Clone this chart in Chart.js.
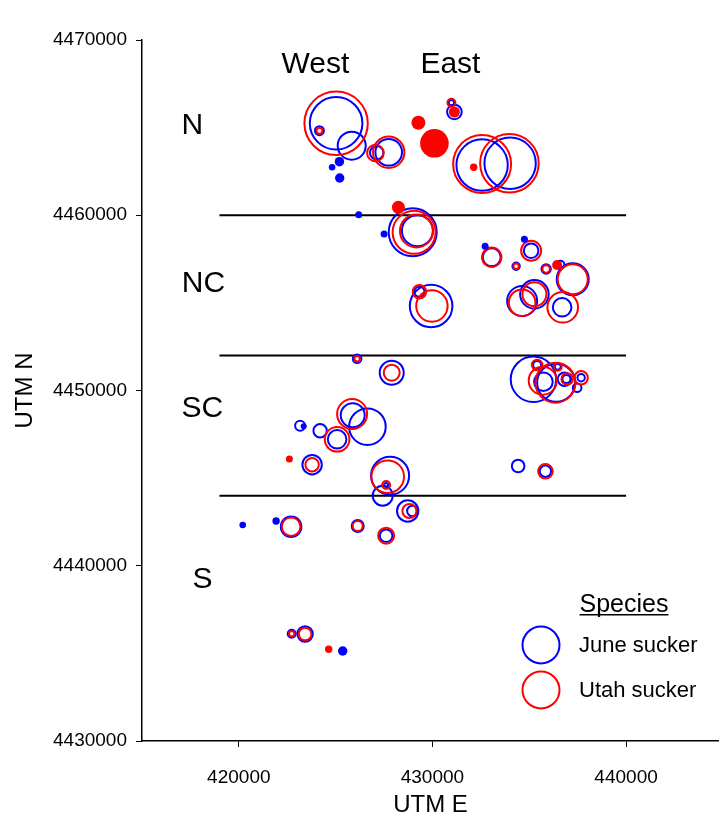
<!DOCTYPE html>
<html>
<head>
<meta charset="utf-8">
<script src="https://cdn.jsdelivr.net/npm/chart.js@4.4.0/dist/chart.umd.min.js"></script>
<style>
  html, body { margin: 0; padding: 0; background: #fff; }
  #wrap { width: 719px; height: 820px; }
</style>
</head>
<body>
<div id="wrap"><canvas id="chart" width="719" height="820"></canvas></div>
<script>
// [UTM E, UTM N, bubble radius]
const juneOpen = [
  [425025, 4465247, 26.3], [424163, 4464825, 4.5], [425831, 4463969, 14], [427122, 4463569, 6.7],
  [427742, 4463592, 13.3], [430273, 4463952, 5], [430981, 4466422, 2.7], [431135, 4465892, 7.3],
  [432566, 4462867, 25.7], [434012, 4462964, 25.7], [428982, 4459027, 24], [429224, 4459119, 15.5],
  [433062, 4457601, 9], [435097, 4457977, 7.3], [434322, 4457087, 3.7], [435872, 4456933, 4.7],
  [436610, 4457179, 4], [437246, 4456345, 16], [434632, 4455107, 15], [435267, 4455490, 14.3],
  [436698, 4454748, 9.3], [429328, 4455638, 5], [429932, 4454822, 21.3], [426110, 4451815, 4.3],
  [427897, 4451016, 12], [425883, 4448585, 12], [426642, 4447935, 18.3], [425077, 4447216, 9.3],
  [424199, 4447707, 6.7], [423166, 4447992, 5], [423786, 4445767, 9.7], [427814, 4445139, 19],
  [427608, 4444608, 2], [427432, 4443998, 10], [428723, 4443125, 10.7], [428966, 4443125, 5.3],
  [422701, 4442229, 10.3], [426141, 4442269, 6], [427608, 4441715, 6.3], [434426, 4445692, 6.3],
  [435836, 4445390, 5.7], [435216, 4450640, 22.7], [436388, 4450445, 19], [435732, 4450503, 9.3],
  [435407, 4451455, 4], [436471, 4451359, 3], [436817, 4450640, 6.7], [436920, 4450656, 4],
  [437680, 4450731, 3.7], [437473, 4450160, 4.3], [422732, 4436123, 4], [423424, 4436106, 7.7]
];
const juneSolid = [
  [425196, 4463056, 4.7], [424819, 4462736, 3.3], [425211, 4462126, 4.7], [426193, 4460032, 3.5],
  [427504, 4458930, 3.5], [432721, 4458229, 3.5], [434751, 4458628, 3.5], [423352, 4447958, 3],
  [420201, 4442326, 3.3], [421926, 4442554, 3.7], [425366, 4435136, 4.7]
];
const utahOpen = [
  [425025, 4465247, 31.7], [424163, 4464825, 3], [427055, 4463552, 8.3], [427742, 4463592, 15.7],
  [430981, 4466422, 4], [432566, 4462925, 29], [433976, 4462964, 29.3], [429054, 4459027, 21.5],
  [429173, 4459102, 16.5], [433062, 4457601, 9.7], [435097, 4457977, 10], [434322, 4457087, 2.7],
  [435872, 4456933, 3.7], [437246, 4456345, 15], [434632, 4455010, 13.3], [435267, 4455490, 12],
  [436729, 4454748, 15.3], [429328, 4455638, 6.7], [429973, 4454822, 15.7], [426110, 4451815, 2.7],
  [427897, 4451016, 8], [425852, 4448660, 15], [425077, 4447216, 12.3], [423786, 4445767, 6.7],
  [427690, 4445082, 16.3], [427608, 4444608, 4], [428811, 4443125, 7], [422701, 4442229, 9.3],
  [426141, 4442269, 5], [427608, 4441715, 8], [435836, 4445390, 7.3], [436352, 4450445, 20],
  [435696, 4450560, 14], [435407, 4451455, 5.3], [436471, 4451359, 4], [436956, 4450657, 5.7],
  [437680, 4450731, 6.7], [422732, 4436123, 2.7], [423424, 4436106, 6.3]
];
const utahSolid = [
  [429276, 4465281, 7], [430102, 4464106, 14.3], [431135, 4465892, 5.5], [432132, 4462736, 3.7],
  [428243, 4460454, 6.5], [436440, 4457161, 5], [422613, 4446092, 3.5], [424643, 4435233, 3.7]
];

const boundaryY = [4460000, 4452000, 4444000];
const boundaryX = [419000, 440000];
const xTicks = [420000, 430000, 440000];
const yTicks = [4430000, 4440000, 4450000, 4460000, 4470000];

const zoneLabels = ['West', 'East', 'N', 'NC', 'SC', 'S'];
const zoneX = [423956, 430929, 417603, 418171, 418120, 418120];
const zoneY = [4468580, 4468580, 4465090, 4456080, 4448950, 4439190];

const seriesNames = ['June sucker', 'Utah sucker'];
const seriesColors = ['#0000ff', '#ff0000'];

const FONT = '"Liberation Sans", Arial, sans-serif';

const toPoints = rows => rows.map(([x, y, r]) => ({ x, y, r }));

const bubbleSet = (rows, color, solid) => ({
  type: 'bubble',
  data: toPoints(rows),
  borderColor: color,
  backgroundColor: solid ? color : 'rgba(0,0,0,0)',
  borderWidth: solid ? 0 : 2,
  hoverRadius: 0,
});

const lineSets = boundaryY.map(y => ({
  type: 'line',
  data: boundaryX.map(x => ({ x, y })),
  borderColor: '#000',
  borderWidth: 2,
  pointRadius: 0,
  fill: false,
}));

const annotations = {
  id: 'annotations',
  afterDraw(chart) {
    const { ctx, scales } = chart;
    ctx.save();
    ctx.fillStyle = '#000';
    ctx.textAlign = 'center';
    ctx.textBaseline = 'middle';
    ctx.font = '30px ' + FONT;
    zoneLabels.forEach((t, i) => {
      ctx.fillText(t, scales.x.getPixelForValue(zoneX[i]), scales.y.getPixelForValue(zoneY[i]));
    });

    // legend
    ctx.font = '25px ' + FONT;
    ctx.textBaseline = 'alphabetic';
    ctx.fillText('Species', 624, 612);
    const w = ctx.measureText('Species').width;
    ctx.fillRect(624 - w / 2, 614, w, 1.5);
    ctx.font = '22px ' + FONT;
    ctx.textAlign = 'left';
    ctx.textBaseline = 'middle';
    seriesNames.forEach((name, i) => {
      const cy = 645 + i * 45;
      ctx.beginPath();
      ctx.arc(541, cy, 18.5, 0, Math.PI * 2);
      ctx.strokeStyle = seriesColors[i];
      ctx.lineWidth = 2;
      ctx.stroke();
      ctx.fillText(name, 579, cy + 1);
    });
    ctx.restore();
  }
};

new Chart(document.getElementById('chart'), {
  data: {
    datasets: [
      bubbleSet(utahSolid, seriesColors[1], true),
      bubbleSet(juneSolid, seriesColors[0], true),
      bubbleSet(utahOpen, seriesColors[1], false),
      bubbleSet(juneOpen, seriesColors[0], false),
      ...lineSets,
    ],
  },
  options: {
    responsive: false,
    animation: false,
    events: [],
    layout: { autoPadding: false, padding: { top: 40, right: 0, left: 0, bottom: 0 } },
    plugins: { legend: { display: false }, tooltip: { enabled: false } },
    scales: {
      x: {
        type: 'linear',
        min: 415000,
        max: 444800,
        afterBuildTicks: s => { s.ticks = xTicks.map(v => ({ value: v })); },
        afterFit: s => { s.height = 79; },
        ticks: {
          color: '#000',
          font: { family: FONT, size: 19 },
          padding: 19,
          maxRotation: 0,
          callback: v => String(v),
        },
        grid: { drawOnChartArea: false, tickLength: 6, tickColor: '#000', tickWidth: 1 },
        border: { color: '#000', width: 1.5 },
        title: { display: true, text: 'UTM E', color: '#000', font: { family: FONT, size: 24 }, padding: { top: 0, bottom: 0 } },
      },
      y: {
        type: 'linear',
        min: 4430000,
        max: 4470000,
        afterBuildTicks: s => { s.ticks = yTicks.map(v => ({ value: v })); },
        afterFit: s => { s.width = 142; },
        ticks: {
          color: '#000',
          font: { family: FONT, size: 19 },
          padding: 9,
          callback: v => String(v),
        },
        grid: { drawOnChartArea: false, tickLength: 6, tickColor: '#000', tickWidth: 1 },
        border: { color: '#000', width: 1.5 },
        title: { display: true, text: 'UTM N', color: '#000', font: { family: FONT, size: 24 }, padding: { top: 11, bottom: 0 } },
      },
    },
  },
  plugins: [annotations],
});
</script>
</body>
</html>
